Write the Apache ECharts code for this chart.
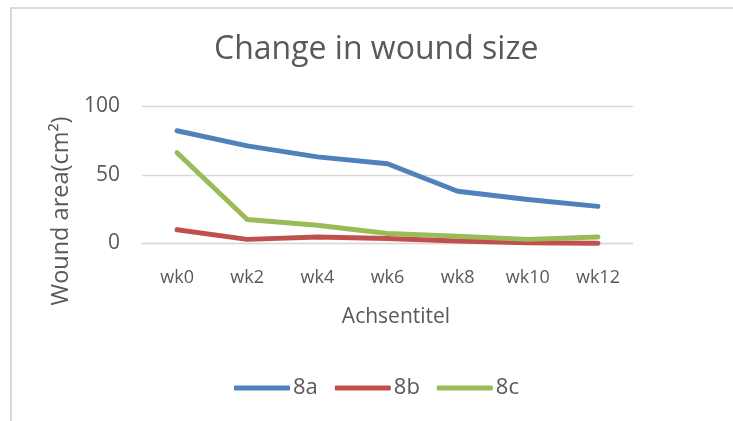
<!DOCTYPE html>
<html>
<head>
<meta charset="utf-8">
<script src="https://cdn.jsdelivr.net/npm/echarts@6/dist/echarts.min.js"></script>
<style>
  html, body { margin: 0; padding: 0; background: #fff; overflow: hidden; }
  #chart { width: 733px; height: 421px; }
</style>
</head>
<body>
<div id="chart"></div>
<script>
  const weeks = ['wk0', 'wk2', 'wk4', 'wk6', 'wk8', 'wk10', 'wk12'];
  const s8a = [82, 71, 63, 58, 38, 32, 27];
  const s8b = [10, 3, 4.8, 3.6, 1.9, 0.5, 0.2];
  const s8c = [66, 17.5, 13.3, 7.3, 5.3, 3, 4.8];
  const yTicks = [0, 50, 100];

  const font = 'Open Sans';
  const grey = '#595959';
  const border = '#d9d9d9';

  const chart = echarts.init(document.getElementById('chart'));
  chart.setOption({
    animation: false,
    textStyle: {fontFamily: font, color: grey},
    title: {
      text: 'Change in wound size',
      left: 214,
      top: 34,
      padding: 0,
      textStyle: {fontFamily: font, fontSize: 32, fontWeight: 'normal', color: grey}
    },
    grid: {left: 142, right: 100, top: 106, bottom: 177.5},
    legend: {
      bottom: 22,
      left: 234,
      padding: 0,
      itemWidth: 56,
      itemHeight: 5,
      itemGap: 17,
      icon: 'roundRect',
      textStyle: {fontFamily: font, fontSize: 22, color: grey, padding: [0, 0, 0, -2]},
      data: ['8a', '8b', '8c']
    },
    xAxis: {
      type: 'category',
      data: weeks,
      boundaryGap: true,
      axisTick: {show: false},
      axisLine: {lineStyle: {color: border, width: 1.3}},
      axisLabel: {fontSize: 18, color: grey, margin: 25},
      name: 'Achsentitel',
      nameLocation: 'middle',
      nameGap: 63,
      nameTextStyle: {fontSize: 21, color: grey, padding: [0, 0, 0, 17]}
    },
    yAxis: {
      type: 'value',
      min: 0,
      max: 100,
      interval: 50,
      axisLine: {show: false},
      axisTick: {show: false},
      splitLine: {lineStyle: {color: border, width: 1.3}},
      axisLabel: {
        fontSize: 21, color: grey, margin: 22,
        formatter: v => yTicks.includes(v) ? String(v) : ''
      }
    },
    graphic: [
      {
        type: 'rect',
        silent: true,
        shape: {x: 10, y: 7, width: 723, height: 2},
        style: {fill: border}
      },
      {
        type: 'rect',
        silent: true,
        shape: {x: 10, y: 7, width: 2, height: 414},
        style: {fill: border}
      },
      {
        type: 'text',
        x: 61,
        y: 211,
        rotation: Math.PI / 2,
        style: {
          text: 'Wound area(cm²)',
          fontFamily: font,
          fontSize: 23.5,
          fill: grey,
          align: 'center',
          verticalAlign: 'middle'
        }
      }
    ],
    series: [
      {name: '8a', data: s8a, color: '#4F81BD'},
      {name: '8b', data: s8b, color: '#C0504D'},
      {name: '8c', data: s8c, color: '#9BBB59'}
    ].map(s => ({
      ...s,
      type: 'line',
      symbol: 'none',
      lineStyle: {width: 5, cap: 'round', join: 'round'}
    }))
  });
</script>
</body>
</html>
